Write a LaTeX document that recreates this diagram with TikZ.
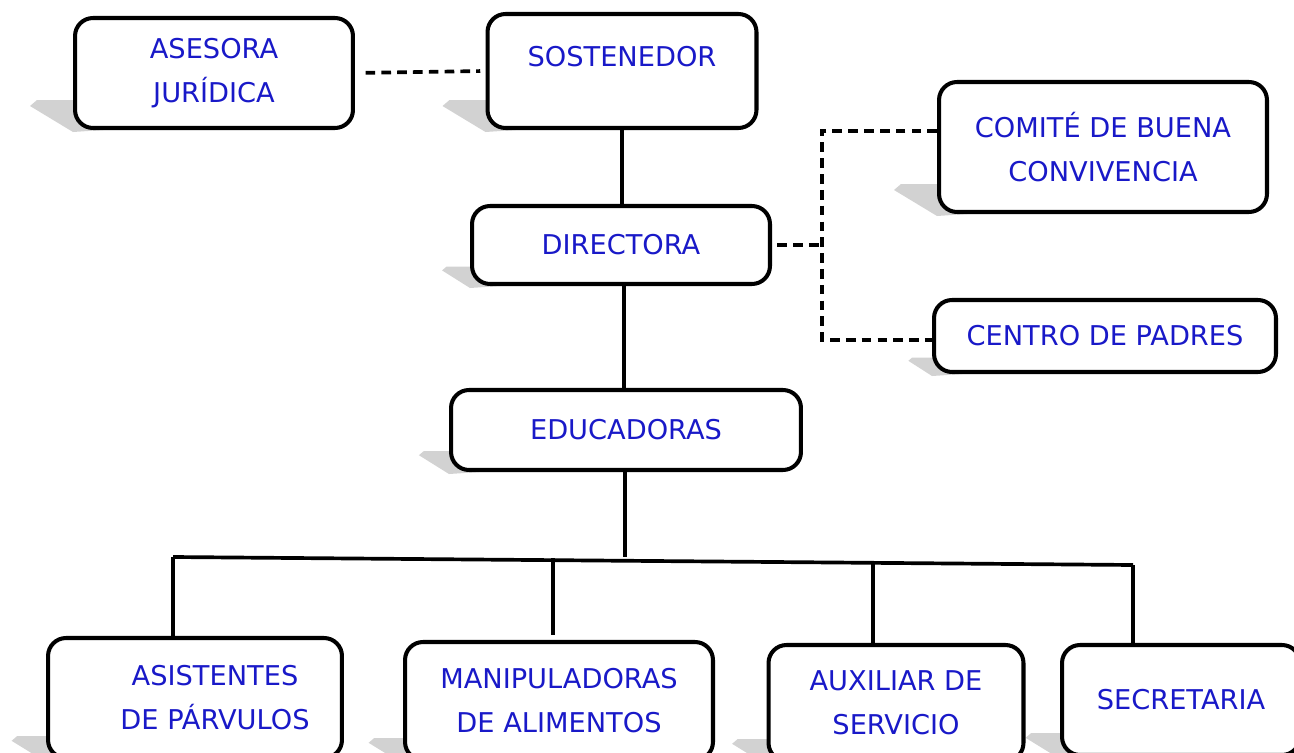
\documentclass[tikz,border=0pt]{standalone}
\usepackage{fontspec}
\setmainfont{DejaVu Sans}
\usetikzlibrary{calc,backgrounds}
\definecolor{cargoblue}{RGB}{25,25,200}
\definecolor{sombra}{RGB}{210,210,210}
\tikzset{
	cargo/.style={draw=black, line width=2.3pt, rounded corners=0.36cm, fill=white,
		text=cargoblue, align=center, font=\fontsize{15.5}{25}\selectfont},
	linea/.style={line width=2.1pt},
	enlace/.style={line width=2.1pt, dash pattern=on 5.5pt off 3.5pt},
}

\begin{document}
\begin{tikzpicture}[x=0.02cm, y=-0.02cm]
	\useasboundingbox (0,0) rectangle (1294,753);
	\clip (0,0) rectangle (1294,753);

	\node[cargo, minimum width=5.56cm, minimum height=2.2cm] (asesora) at (214,73) {ASESORA\\JURÍDICA};
	\node[cargo, minimum width=5.38cm, minimum height=2.28cm, text depth=0.6cm] (sostenedor) at (622,71) {SOSTENEDOR};
	\node[cargo, minimum width=6.56cm, minimum height=2.6cm] (comite) at (1103,147) {COMITÉ DE BUENA\\CONVIVENCIA};
	\node[cargo, minimum width=5.96cm, minimum height=1.56cm] (directora) at (621,245) {DIRECTORA};
	\node[cargo, minimum width=6.84cm, minimum height=1.44cm] (centro) at (1105,336) {CENTRO DE PADRES};
	\node[cargo, minimum width=7cm, minimum height=1.6cm] (educadoras) at (626,430) {EDUCADORAS};
	\node[cargo, minimum width=5.88cm, minimum height=2.4cm] (asistentes) at (195,698) {\hspace*{0.8cm}ASISTENTES\\\hspace*{0.8cm}DE PÁRVULOS};
	\node[cargo, minimum width=6.16cm, minimum height=2.36cm] (manipuladoras) at (559,701) {MANIPULADORAS\\DE ALIMENTOS};
	\node[cargo, minimum width=5.1cm, minimum height=2.32cm] (auxiliar) at (896,703) {AUXILIAR DE\\SERVICIO};
	\node[cargo, minimum width=4.76cm, minimum height=2.2cm] (secretaria) at (1181,700) {SECRETARIA};

	% sombras
	\begin{scope}[on background layer]
		\foreach \n/\s in {asesora/1, sostenedor/1, comite/1, directora/0.65, centro/0.55,
			educadoras/0.7, asistentes/0.8, manipuladoras/0.8, auxiliar/0.8, secretaria/0.8}
			\fill[sombra] ($(\n.south west)+(-\s*43,-\s*24)$) -- ($(\n.south west)+(-\s*36,-\s*30)$)
				-- ($(\n.south west)+(30,-\s*30)$) -- ($(\n.south west)+(30,0)$)
				-- ($(\n.south west)+(0,2)$) -- cycle;
	\end{scope}

	% linea de mando
	\coordinate (d1) at (624,284);
	\draw[linea] (sostenedor.south) -- (sostenedor.south |- directora.north);
	\draw[linea] (d1) -- (d1 |- educadoras.north);

	\coordinate (b1) at (173,557);
	\coordinate (b2) at (553,558);
	\coordinate (b3) at (873,562);
	\coordinate (b4) at (1133,565);
	\draw[linea] ($(educadoras.south)+(-1,0)$) -- (625,557);
	\draw[linea] (b1) -- (b4);
	\draw[linea] (b1) -- (b1 |- asistentes.north);
	\draw[linea] (b2) -- ($(b2 |- manipuladoras.north)+(0,-5)$);
	\draw[linea] (b3) -- (b3 |- auxiliar.north);
	\draw[linea] (b4) -- (b4 |- secretaria.north);

	% apoyo
	\draw[enlace, shorten <=6pt, shorten >=3pt] (asesora.east) -- (sostenedor.west);
	\coordinate (jt) at (822,131);
	\coordinate (jb) at (822,340);
	\draw[enlace, shorten <=3pt] (directora.east) -- (directora.east -| jt);
	\draw[enlace] (jt -| comite.west) -- (jt) -- (jb) -- (jb -| centro.west);
\end{tikzpicture}
\end{document}
